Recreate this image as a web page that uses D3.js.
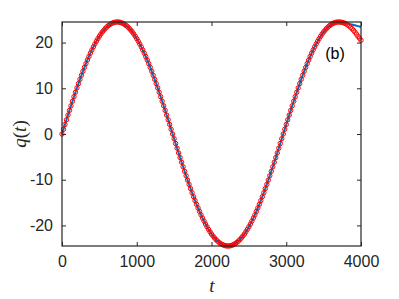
<!DOCTYPE html>
<html>
<head>
<meta charset="utf-8">
<script src="https://cdn.jsdelivr.net/npm/d3@7"></script>
<style>
  body { margin: 0; background: #fff; }
  svg { display: block; }
  .tick text { font-family: "Liberation Sans", Arial, sans-serif; font-size: 16px; fill: #262626; }
</style>
</head>
<body>
<div id="chart"></div>
<script>
// sampling step of t (one marker every 20 time units, 0..4000)
var tStep = 20;

// q(t), shared by both curves up to t = 3700
var qShared = [
  0, 1.04, 2.08, 3.11, 4.14, 5.16, 6.17, 7.17, 8.16, 9.13, 10.09, 11.03, 11.95, 12.85, 13.72, 14.57, 15.39, 16.19, 16.95,
  17.69, 18.39, 19.06, 19.70, 20.30, 20.86, 21.39, 21.88, 22.33, 22.73, 23.10, 23.43, 23.71, 23.95, 24.15, 24.30, 24.41, 24.48, 24.5,
  24.48, 24.41, 24.30, 24.15, 23.95, 23.71, 23.43, 23.10, 22.73, 22.33, 21.88, 21.39, 20.86, 20.30, 19.70, 19.06, 18.39, 17.69,
  16.95, 16.19, 15.39, 14.57, 13.72, 12.85, 11.95, 11.03, 10.09, 9.13, 8.16, 7.17, 6.17, 5.16, 4.14, 3.11, 2.08, 1.04, 0,
  -1.04, -2.08, -3.11, -4.14, -5.16, -6.17, -7.17, -8.16, -9.13, -10.09, -11.03, -11.95, -12.85, -13.72, -14.57, -15.39, -16.19, -16.95,
  -17.69, -18.39, -19.06, -19.70, -20.30, -20.86, -21.39, -21.88, -22.33, -22.73, -23.10, -23.43, -23.71, -23.95, -24.15, -24.30, -24.41, -24.48, -24.5,
  -24.48, -24.41, -24.30, -24.15, -23.95, -23.71, -23.43, -23.10, -22.73, -22.33, -21.88, -21.39, -20.86, -20.30, -19.70, -19.06, -18.39, -17.69,
  -16.95, -16.19, -15.39, -14.57, -13.72, -12.85, -11.95, -11.03, -10.09, -9.13, -8.16, -7.17, -6.17, -5.16, -4.14, -3.11, -2.08, -1.04, 0,
  1.04, 2.08, 3.11, 4.14, 5.16, 6.17, 7.17, 8.16, 9.13, 10.09, 11.03, 11.95, 12.85, 13.72, 14.57, 15.39, 16.19, 16.95,
  17.69, 18.39, 19.06, 19.70, 20.30, 20.86, 21.39, 21.88, 22.33, 22.73, 23.10, 23.43, 23.71, 23.95, 24.15, 24.30, 24.41, 24.48, 24.5
];
// t = 3720 .. 4000: the two curves split here
var qMarkerTail = [24.49, 24.44, 24.36, 24.24, 24.08, 23.88, 23.64, 23.36, 23.04, 22.68, 22.28, 21.84, 21.36, 20.95, 20.5];
var qLineTail = [24.45, 24.38, 24.32, 24.26, 24.2, 24.15, 24.1, 24.02, 23.95, 23.86, 23.77, 23.68, 23.6, 23.5, 23.4];

var xTicks = [0, 1000, 2000, 3000, 4000];
var yTicks = [-20, -10, 0, 10, 20];

var width = 399, height = 299;
var margin = { top: 22, right: 38, bottom: 53, left: 62 };

function toPoints (q) {
  return q.map(function (v, i) { return { t: i * tStep, q: v }; });
}

var markers = toPoints(qShared.concat(qMarkerTail)),
    line = toPoints(qShared.concat(qLineTail));

var svg = d3.select("#chart").append("svg")
  .attr("width", width)
  .attr("height", height);

var x = d3.scaleLinear().domain([0, 4000]).range([margin.left, width - margin.right]);
var y = d3.scaleLinear().domain([-24.5, 24.5]).range([height - margin.bottom, margin.top]);

var axisColor = "#262626";
var plain = function (d) { return String(d); };   // hyphen minus, no thousands comma

function styleAxis (g, hideText) {
  g.select(".domain").remove();
  g.selectAll(".tick line").attr("stroke", axisColor).attr("stroke-width", 1);
  if (hideText) g.selectAll(".tick text").remove();
}

// ticks point inward on all four sides
svg.append("g")
  .attr("transform", "translate(0," + y.range()[0] + ")")
  .call(d3.axisBottom(x).tickValues(xTicks).tickFormat(plain).tickSize(-4).tickPadding(10))
  .call(styleAxis);
svg.append("g")
  .attr("transform", "translate(0," + y.range()[1] + ")")
  .call(d3.axisTop(x).tickValues(xTicks).tickSize(-4))
  .call(function (g) { styleAxis(g, true); });
svg.append("g")
  .attr("transform", "translate(" + x.range()[0] + ",0)")
  .call(d3.axisLeft(y).tickValues(yTicks).tickFormat(plain).tickSize(-4).tickPadding(9))
  .call(styleAxis);
svg.append("g")
  .attr("transform", "translate(" + x.range()[1] + ",0)")
  .call(d3.axisRight(y).tickValues(yTicks).tickSize(-4))
  .call(function (g) { styleAxis(g, true); });

svg.append("path")
  .datum(line)
  .attr("fill", "none")
  .attr("stroke", "#0072BD")
  .attr("stroke-width", 2)
  .attr("d", d3.line().x(function (d) { return x(d.t); }).y(function (d) { return y(d.q); }));

svg.append("g").selectAll("circle")
  .data(markers)
.enter().append("circle")
  .attr("cx", function (d) { return x(d.t); })
  .attr("cy", function (d) { return y(d.q); })
  .attr("r", 2.2)
  .attr("fill", "none")
  .attr("stroke", "#FF0000")
  .attr("stroke-width", 1);

// box
svg.append("rect")
  .attr("x", x.range()[0])
  .attr("y", y.range()[1])
  .attr("width", x.range()[1] - x.range()[0])
  .attr("height", y.range()[0] - y.range()[1])
  .attr("fill", "none")
  .attr("stroke", axisColor)
  .attr("stroke-width", 1.2);

svg.append("text")
  .attr("x", 335)
  .attr("y", 59)
  .attr("text-anchor", "middle")
  .style("font-family", "'Liberation Sans', Arial, sans-serif")
  .style("font-size", "16px")
  .attr("fill", "#000")
  .text("(b)");

svg.append("text")
  .attr("x", 212)
  .attr("y", 292)
  .attr("text-anchor", "middle")
  .style("font-family", "'Liberation Serif', 'Times New Roman', serif")
  .style("font-style", "italic")
  .style("font-size", "19px")
  .attr("fill", axisColor)
  .text("t");

svg.append("text")
  .attr("transform", "translate(26," + y(0) + ") rotate(-90)")
  .attr("text-anchor", "middle")
  .style("font-family", "'Liberation Serif', 'Times New Roman', serif")
  .style("font-size", "19px")
  .attr("fill", axisColor)
  .html("<tspan font-style='italic'>q</tspan>(<tspan font-style='italic'>t</tspan>)");
</script>
</body>
</html>
